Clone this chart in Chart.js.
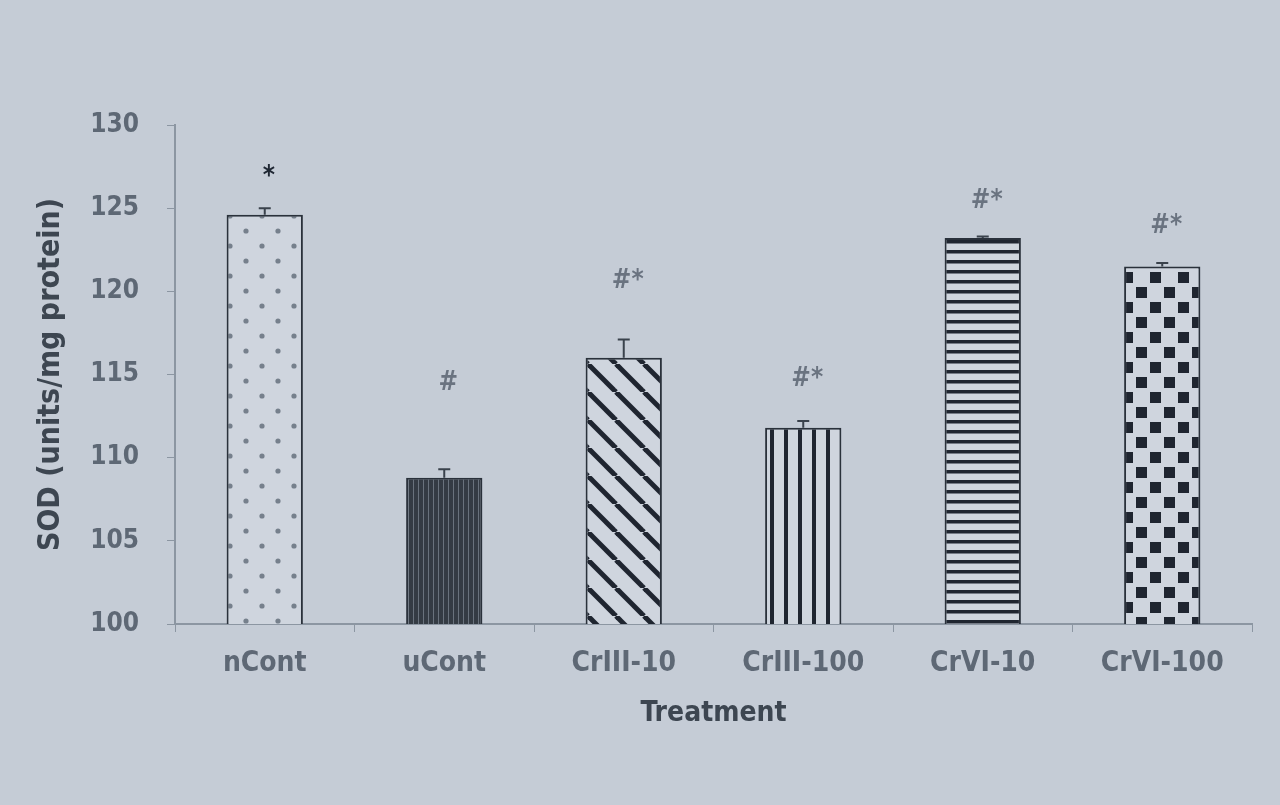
<!DOCTYPE html>
<html>
<head>
<meta charset="utf-8">
<script src="https://cdn.jsdelivr.net/npm/chart.js@4.4.1/dist/chart.umd.min.js"></script>
<style>
html,body{margin:0;padding:0;background:#c5ccd6;}
#wrap{position:relative;width:1280px;height:805px;}
canvas{display:block;}
</style>
</head>
<body>
<div id="wrap"><canvas id="c" width="1280" height="805"></canvas></div>
<script>
// ---- data ----
const categories = ["nCont", "uCont", "CrIII-10", "CrIII-100", "CrVI-10", "CrVI-100"];
const sodValues = [124.6, 108.8, 116.0, 111.8, 123.2, 121.5];
const sodErrors = [0.4, 0.5, 1.1, 0.4, 0.1, 0.2];
const sigMarks = ["*", "#", "#*", "#*", "#*", "#*"];
const sigLevels = [127.2, 114.5, 120.6, 114.7, 125.4, 123.9];
const yTicks = [100, 105, 110, 115, 120, 125, 130];

// ---- patterns ----
function tile(w, h, draw) {
  const c = document.createElement('canvas');
  c.width = w; c.height = h;
  const g = c.getContext('2d');
  draw(g, w, h);
  return document.getElementById('c').getContext('2d').createPattern(c, 'repeat');
}
const DARK = '#1f2530';
const LIGHT = '#cfd5de';
const pDots = tile(32, 30, (g, w, h) => {
  g.fillStyle = LIGHT; g.fillRect(0, 0, w, h);
  g.fillStyle = '#76808c';
  [[6, 6], [22, 21]].forEach(([x, y]) => { g.beginPath(); g.arc(x, y, 2.6, 0, Math.PI * 2); g.fill(); });
});
const pDense = tile(5, 5, (g, w, h) => {
  g.fillStyle = '#343b44'; g.fillRect(0, 0, w, h);
  g.fillStyle = '#69727d'; g.fillRect(3, 0, 1, h);
});
const pDiag = tile(28, 28, (g, w, h) => {
  g.fillStyle = LIGHT; g.fillRect(0, 0, w, h);
  g.strokeStyle = DARK; g.lineWidth = 5;
  for (const o of [-w, 0, w]) {
    g.beginPath(); g.moveTo(o, 0); g.lineTo(o + w, h); g.stroke();
  }
});
const pVert = tile(14, 14, (g, w, h) => {
  g.fillStyle = LIGHT; g.fillRect(0, 0, w, h);
  g.fillStyle = DARK; g.fillRect(0, 0, 4, h);
});
const pHoriz = tile(10, 10, (g, w, h) => {
  g.fillStyle = LIGHT; g.fillRect(0, 0, w, h);
  g.fillStyle = DARK; g.fillRect(0, 0, w, 3.5);
});
const pCheck = tile(28, 30, (g, w, h) => {
  g.fillStyle = LIGHT; g.fillRect(0, 0, w, h);
  g.fillStyle = DARK;
  g.fillRect(2, 2, 11, 11);
  g.fillRect(16, 17, 11, 11);
});
const fills = [pDots, pDense, pDiag, pVert, pHoriz, pCheck];

const FONT = "'DejaVu Sans Condensed', 'DejaVu Sans', sans-serif";
const PAD_L = 20, PAD_T = 125, PAD_R = 28, PAD_B = 60;
const AXIS_LEFT = 175, AXIS_BOTTOM = 624;

// error bars + significance marks plugin
const extras = {
  id: 'extras',
  afterDatasetsDraw(chart) {
    const { ctx } = chart;
    const meta = chart.getDatasetMeta(0);
    const y = chart.scales.y;
    ctx.save();
    meta.data.forEach((bar, i) => {
      const top = y.getPixelForValue(sodValues[i] + sodErrors[i]);
      const base = y.getPixelForValue(sodValues[i]);
      ctx.strokeStyle = '#3a424c';
      ctx.lineWidth = 2;
      ctx.beginPath();
      ctx.moveTo(bar.x, base); ctx.lineTo(bar.x, top);
      ctx.moveTo(bar.x - 6, top); ctx.lineTo(bar.x + 6, top);
      ctx.stroke();
      ctx.fillStyle = i === 0 ? '#1f2733' : '#6a7380';
      ctx.font = "bold 26px " + FONT;
      ctx.textAlign = 'center';
      ctx.textBaseline = 'middle';
      ctx.fillText(sigMarks[i], bar.x + 4, y.getPixelForValue(sigLevels[i]) + (i === 0 ? 6 : 0));
    });
    ctx.restore();
  }
};

new Chart(document.getElementById('c'), {
  type: 'bar',
  data: {
    labels: categories,
    datasets: [{
      data: sodValues,
      backgroundColor: fills,
      borderColor: '#2a313b',
      borderWidth: 2,
      categoryPercentage: 1.0,
      barPercentage: 0.425
    }]
  },
  options: {
    responsive: false,
    animation: false,
    layout: { padding: { top: PAD_T, right: PAD_R, left: PAD_L, bottom: PAD_B } },
    plugins: { legend: { display: false }, tooltip: { enabled: false } },
    scales: {
      x: {
        grid: { display: true, drawOnChartArea: false, drawTicks: true, tickLength: 8, color: '#8c96a2' },
        border: { display: true, color: '#8c96a2', width: 2 },
        ticks: { color: '#5e6875', font: { family: FONT, size: 28, weight: 'bold' }, padding: 15 },
        title: { display: true, text: 'Treatment', color: '#3d4651', font: { family: FONT, size: 28, weight: 'bold' }, padding: { top: 4, bottom: 14 } },
        afterFit(s) { s.height = 805 - AXIS_BOTTOM - PAD_B; }
      },
      y: {
        min: 100, max: 130,
        afterBuildTicks(s) { s.ticks = yTicks.map(v => ({ value: v })); },
        grid: { display: true, drawOnChartArea: false, drawTicks: true, tickLength: 8, color: '#8c96a2' },
        border: { display: true, color: '#8c96a2', width: 2 },
        ticks: { color: '#5e6875', font: { family: FONT, size: 26, weight: 'bold' }, padding: 28 },
        title: { display: true, text: 'SOD (units/mg protein)', color: '#3d4651', font: { family: FONT, size: 30, weight: 'bold' }, padding: { top: 13, bottom: 4 } },
        afterFit(s) { s.width = AXIS_LEFT - PAD_L; }
      }
    }
  },
  plugins: [extras]
});
</script>
</body>
</html>
